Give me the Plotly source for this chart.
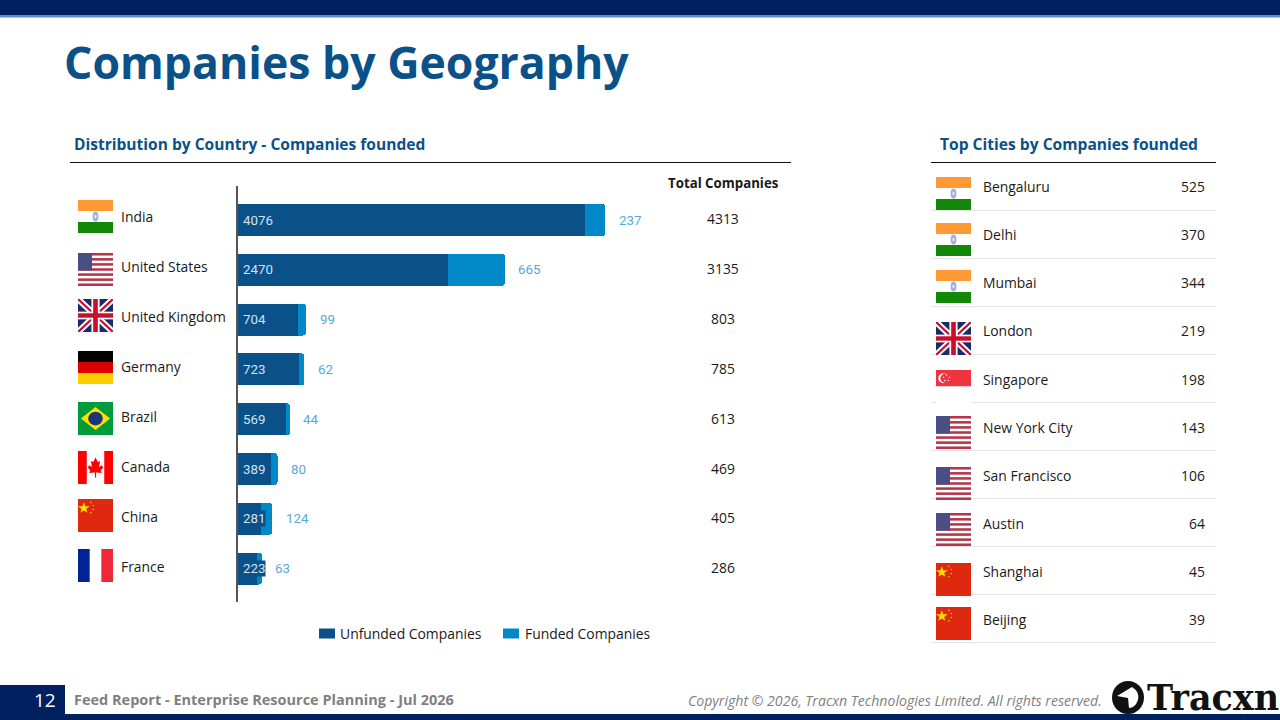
import base64

import plotly.graph_objects as go

W, H = 1280, 720
NAVY = "#002060"
BLUE = "#0B5189"
LIGHT = "#0088C9"
GREY = "#7F7F7F"
SANS = "Open Sans"

# --- chart data ---
countries = ["India", "United States", "United Kingdom", "Germany", "Brazil", "Canada", "China", "France"]
unfunded = [4076, 2470, 704, 723, 569, 389, 281, 223]
funded = [237, 665, 99, 62, 44, 80, 124, 63]
totals = [4313, 3135, 803, 785, 613, 469, 405, 286]

cities = ["Bengaluru", "Delhi", "Mumbai", "London", "Singapore", "New York City", "San Francisco", "Austin", "Shanghai", "Beijing"]
city_counts = [525, 370, 344, 219, 198, 143, 106, 64, 45, 39]
city_flags = ["in", "in", "in", "uk", "sg", "us", "us", "us", "cn", "cn"]
country_flags = ["in", "us", "uk", "de", "br", "ca", "cn", "fr"]

# --- layout positions, pixels from top left ---
country_label_y = [216.5, 266.5, 316.5, 366.5, 416.5, 466.5, 516.5, 566.5]
country_total_y = [218.5, 268.5, 318.5, 368.5, 418.5, 468.5, 517.5, 567.5]
country_flag_y = [200, 253, 299, 351, 402, 451, 499, 549]
city_label_y = [187, 235, 283, 331, 379, 427, 475, 523, 571, 619]
city_flag_y = [177, 223, 270, 322, 370, 416, 467, 513, 563, 607]


def fx(px):
    return px / W


def fy(py):
    return 1 - py / H


# --- flags, as little svgs ---
def svg_uri(body):
    svg = f'<svg xmlns="http://www.w3.org/2000/svg" viewBox="0 0 60 60" preserveAspectRatio="none">{body}</svg>'
    return "data:image/svg+xml;base64," + base64.b64encode(svg.encode()).decode()


def rect(x, y, w, h, c):
    return f'<rect x="{x}" y="{y}" width="{w}" height="{h}" fill="{c}"/>'


def us_flag():
    s = rect(0, 0, 60, 60, "#fff")
    for i in range(0, 13, 2):
        s += rect(0, i * 60 / 13, 60, 60 / 13, "#B5344A")
    s += rect(0, 0, 24, 32, "#4A4F83")
    return s


def uk_flag():
    s = rect(0, 0, 60, 60, "#1C2A6B")
    s += '<path d="M0 0L60 60M60 0L0 60" stroke="#fff" stroke-width="11"/>'
    s += '<path d="M0 0L60 60M60 0L0 60" stroke="#C8102E" stroke-width="4"/>'
    s += rect(23, 0, 14, 60, "#fff") + rect(0, 23, 60, 14, "#fff")
    s += rect(26, 0, 8, 60, "#C8102E") + rect(0, 26, 60, 8, "#C8102E")
    return s


flag_svgs = {
    "in": rect(0, 0, 60, 60, "#fff") + rect(0, 0, 60, 20, "#FF9933") + rect(0, 40, 60, 20, "#138808")
    + '<ellipse cx="30" cy="30" rx="5" ry="9" fill="#9DB4D8"/><ellipse cx="30" cy="30" rx="1.8" ry="3" fill="#E8EDF5"/>',
    "us": us_flag(),
    "uk": uk_flag(),
    "de": rect(0, 0, 60, 20, "#000") + rect(0, 20, 60, 20, "#DD0000") + rect(0, 40, 60, 20, "#FFCE00"),
    "br": rect(0, 0, 60, 60, "#009B3A") + '<path d="M5 30L30 9L55 30L30 51Z" fill="#FEDF00"/>'
    + '<circle cx="30" cy="30" r="12.5" fill="#1C3578"/>',
    "ca": rect(0, 0, 60, 60, "#fff") + rect(0, 0, 15, 60, "#FF0000") + rect(45, 0, 15, 60, "#FF0000")
    + '<path d="M30 12L34 20L38 18L36 29L41 26L43 30L39 36L41 40L31 39L31 48L29 48L29 39L19 40L21 36L17 30L19 26L24 29L22 18L26 20Z" fill="#FF0000"/>',
    "cn": rect(0, 0, 60, 60, "#DE2910") + '<path d="M10 6L12.5 13L20 13L14 18L16 25L10 21L4 25L6 18L0 13L7.5 13Z" fill="#FFDE00"/>'
    + '<circle cx="22" cy="6" r="1.3" fill="#FFDE00"/><circle cx="26" cy="12" r="1.3" fill="#FFDE00"/>'
    + '<circle cx="26" cy="19" r="1.3" fill="#FFDE00"/><circle cx="22" cy="25" r="1.3" fill="#FFDE00"/>',
    "fr": rect(0, 0, 60, 60, "#fff") + rect(0, 0, 20, 60, "#002395") + rect(40, 0, 20, 60, "#ED2939"),
    "sg": rect(0, 0, 60, 30, "#EF3340") + rect(0, 30, 60, 30, "#fff")
    + '<circle cx="13" cy="15" r="9" fill="#fff"/><circle cx="16" cy="15" r="8.5" fill="#EF3340"/>'
    + '<circle cx="18" cy="9" r="1.3" fill="#fff"/><circle cx="23" cy="13" r="1.3" fill="#fff"/>'
    + '<circle cx="21" cy="19" r="1.3" fill="#fff"/><circle cx="15" cy="19" r="1.3" fill="#fff"/><circle cx="13" cy="13" r="1.3" fill="#fff"/>',
}

# --- bars ---
fig = go.Figure()
fig.add_trace(go.Bar(y=countries, x=unfunded, name="Unfunded Companies", orientation="h",
                     marker=dict(color=BLUE, line=dict(width=0)), width=0.64, hoverinfo="x+y"))
fig.add_trace(go.Bar(y=countries, x=funded, name="Funded Companies", orientation="h",
                     marker=dict(color=LIGHT, line=dict(width=0)), width=0.64, hoverinfo="x+y"))

annotations = []


def label(text, x, y, size=14, color="#1a1a1a", anchor="left", bold=False, italic=False, family=SANS):
    # annotations carry ~2px of padding, take it back out
    if anchor == "left":
        x -= 2
    elif anchor == "right":
        x += 2
    if bold:
        text = f"<b>{text}</b>"
    if italic:
        text = f"<i>{text}</i>"
    annotations.append(dict(text=text, x=fx(x), y=fy(y), xref="paper", yref="paper", xanchor=anchor,
                            yanchor="middle", showarrow=False, font=dict(family=family, size=size, color=color)))


# values on the bars
for c, u, f, t in zip(countries, unfunded, funded, totals):
    annotations.append(dict(text=str(u), x=0, y=c, xref="x", yref="y", xanchor="left", xshift=4.5, showarrow=False,
                            bgcolor=BLUE, borderpad=0, font=dict(family="Roboto", size=13.3, color="#D3E2EE")))
    annotations.append(dict(text=str(f), x=t, y=c, xref="x", yref="y", xanchor="left", xshift=11.5, showarrow=False,
                            font=dict(family="Roboto", size=13.3, color="#55A9DC")))

# left table
for name, n, ly, ty in zip(countries, totals, country_label_y, country_total_y):
    label(name, 121, ly, size=13.9)
    label(str(n), 723, ty, size=13.9, anchor="center")

# right table
for name, n, y in zip(cities, city_counts, city_label_y):
    label(name, 983, y, size=13.9)
    label(str(n), 1205, y, size=13.9, anchor="right")

label("Companies by Geography", 64, 61, size=44.6, color=BLUE, bold=True)
label("Distribution by Country - Companies founded", 74, 144, size=15.55, color=BLUE, bold=True)
label("Top Cities by Companies founded", 940, 144, size=15.6, color=BLUE, bold=True)
label("Total Companies", 723, 183, size=13.25, anchor="center", bold=True)
label("12", 45, 700, size=19, color="#fff", anchor="center")
label("Feed Report - Enterprise Resource Planning - Jul 2026", 74, 699, size=14.5, color=GREY, bold=True)
label("Copyright © 2026, Tracxn Technologies Limited. All rights reserved.", 1102, 700, size=14.1, color=GREY,
      anchor="right", italic=True)
label("Tracxn", 1147, 697, size=35, color="#111111", bold=True, family="DejaVu Serif")
label("Unfunded Companies", 340, 633, size=13.9)
label("Funded Companies", 524.5, 633, size=13.9)

# --- flags placed on the page ---
images = []
for code, y in zip(country_flags, country_flag_y):
    images.append(dict(source=svg_uri(flag_svgs[code]), xref="paper", yref="paper", x=fx(78), y=fy(y),
                       sizex=35 / W, sizey=33 / H, sizing="stretch", xanchor="left", yanchor="top", layer="above"))
for code, y in zip(city_flags, city_flag_y):
    images.append(dict(source=svg_uri(flag_svgs[code]), xref="paper", yref="paper", x=fx(936), y=fy(y),
                       sizex=35 / W, sizey=33 / H, sizing="stretch", xanchor="left", yanchor="top", layer="above"))


# --- page furniture ---
def box(x0, y0, x1, y1, color):
    return dict(type="rect", xref="paper", yref="paper", x0=fx(x0), x1=fx(x1), y0=fy(y1), y1=fy(y0),
                fillcolor=color, line=dict(width=0), layer="below")


shapes = [
    box(0, 0, 1280, 15.5, NAVY),
    box(0, 15.5, 1280, 17.5, "#5B8BD6"),
    box(0, 714, 1280, 720, NAVY),
    box(0, 685, 65, 714, NAVY),
    box(70, 162, 791, 163, "#111111"),
    box(931, 162, 1216, 163, "#111111"),
    # legend swatches
    box(319, 628.5, 335, 638.5, BLUE),
    box(503, 628.5, 519, 638.5, LIGHT),
]
for y in city_label_y:
    shapes.append(box(931, y + 23, 1216, y + 24, "#E4E4E4"))

# logo
shapes.append(dict(type="circle", xref="paper", yref="paper", x0=fx(1112), x1=fx(1144), y0=fy(714), y1=fy(681),
                   fillcolor="#111111", line=dict(width=0)))
shapes.append(dict(type="path", xref="paper", yref="paper", fillcolor="#fff", line=dict(width=0),
                   path=f"M {fx(1117)} {fy(696)} L {fx(1132)} {fy(687)} Q {fx(1140)} {fy(692)} {fx(1138)} {fy(700)} "
                        f"Q {fx(1135)} {fy(708)} {fx(1129)} {fy(708)} L {fx(1128)} {fy(698)} Z"))

fig.update_layout(
    width=W,
    height=H,
    margin=dict(l=0, r=0, t=0, b=0),
    paper_bgcolor="#fff",
    plot_bgcolor="#fff",
    barmode="stack",
    barcornerradius=3,
    showlegend=False,
    xaxis=dict(domain=[fx(237.5), fx(790)], range=[0, 6477], visible=False, fixedrange=True),
    yaxis=dict(domain=[fy(602), fy(186)], range=[7.67, -0.683], type="category", showticklabels=False, ticks="",
               showgrid=False, zeroline=False, showline=True, linecolor="#555555", linewidth=2, fixedrange=True),
    annotations=annotations,
    shapes=shapes,
    images=images,
)

# the browser's default body margin would push the page 8px off
fig.write_html("out.html", config={"displayModeBar": False}, post_script="document.body.style.margin = '0';")
